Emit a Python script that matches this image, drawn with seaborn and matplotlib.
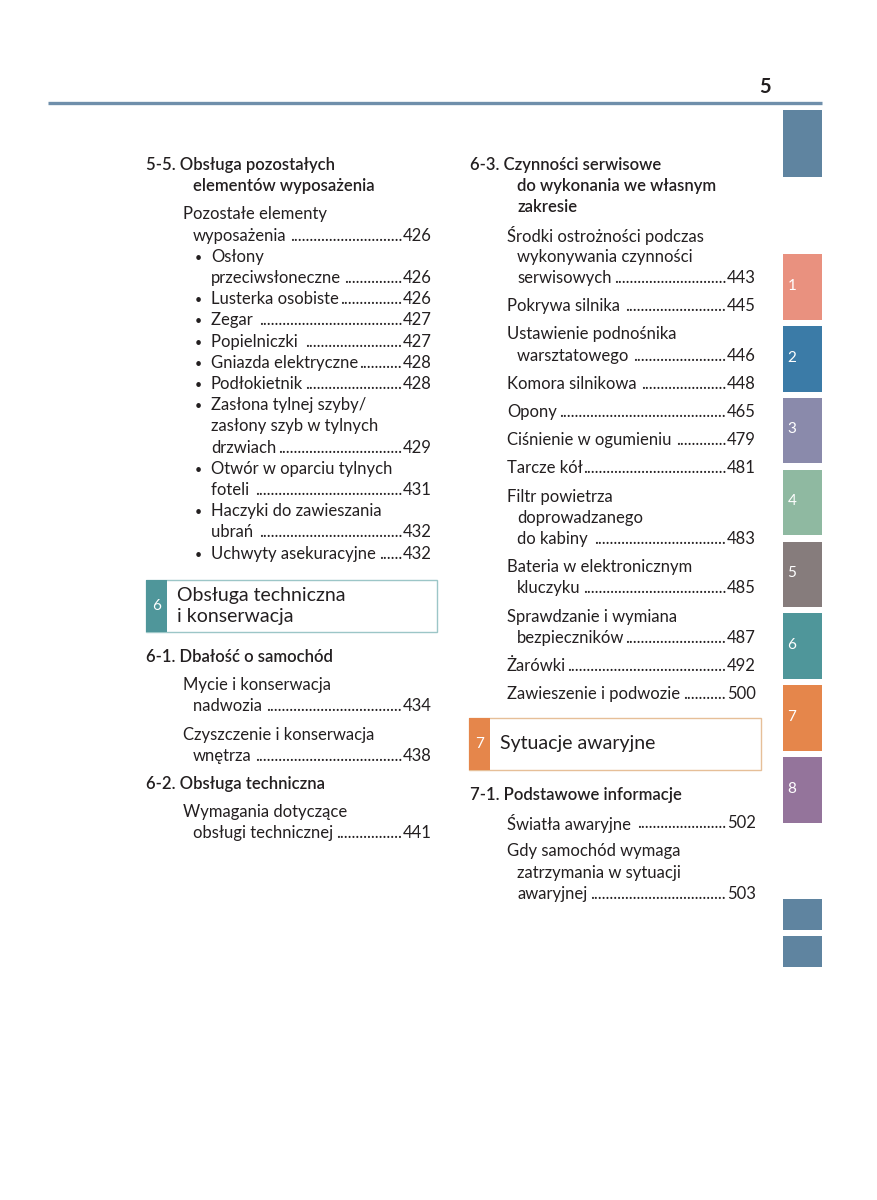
import matplotlib
matplotlib.use("Agg")
import matplotlib.pyplot as plt
import seaborn as sns

sns.set_theme(style="white")
plt.rcParams["font.family"] = ["Lato", "DejaVu Sans"]

# ---- page content ----
page_number = "5"

tab_labels = ["", "1", "2", "3", "4", "5", "6", "7", "8", "", ""]
tab_colors = ["#5f84a0", "#e9917f", "#3b7ba7", "#8a8aab", "#8fb9a1",
              "#867c7c", "#4f969a", "#e5864b", "#94749b", "#5f84a0", "#5f84a0"]
tab_tops = [110, 254, 326, 398, 470, 542, 613, 685, 757, 899, 936]
tab_heights = [67, 66, 66, 65, 65, 65, 66, 66, 66, 31, 31]

# (kind, text, page) ; kind: H heading, HC heading continuation, I item,
# C continuation, B bullet, BC bullet continuation
sec_5_5 = [
    ("H", "5-5. Obsługa pozostałych", None),
    ("HC", "elementów wyposażenia", None),
    ("I", "Pozostałe elementy", None),
    ("C", "wyposażenia", "426"),
    ("B", "Osłony", None),
    ("BC", "przeciwsłoneczne", "426"),
    ("B", "Lusterka osobiste", "426"),
    ("B", "Zegar ", "427"),
    ("B", "Popielniczki ", "427"),
    ("B", "Gniazda elektryczne", "428"),
    ("B", "Podłokietnik", "428"),
    ("B", "Zasłona tylnej szyby/", None),
    ("BC", "zasłony szyb w tylnych", None),
    ("BC", "drzwiach", "429"),
    ("B", "Otwór w oparciu tylnych", None),
    ("BC", "foteli ", "431"),
    ("B", "Haczyki do zawieszania", None),
    ("BC", "ubrań ", "432"),
    ("B", "Uchwyty asekuracyjne", "432"),
]

chapter_6 = ["Obsługa techniczna", "i konserwacja"]

sec_6_1 = [
    ("H", "6-1. Dbałość o samochód", None),
    ("I", "Mycie i konserwacja", None),
    ("C", "nadwozia ", "434"),
    ("I", "Czyszczenie i konserwacja", None),
    ("C", "wnętrza", "438"),
    ("H", "6-2. Obsługa techniczna", None),
    ("I", "Wymagania dotyczące", None),
    ("C", "obsługi technicznej", "441"),
]

sec_6_3 = [
    ("H", "6-3. Czynności serwisowe", None),
    ("HC", "do wykonania we własnym", None),
    ("HC", "zakresie", None),
    ("I", "Środki ostrożności podczas", None),
    ("C", "wykonywania czynności", None),
    ("C", "serwisowych", "443"),
    ("I", "Pokrywa silnika ", "445"),
    ("I", "Ustawienie podnośnika", None),
    ("C", "warsztatowego ", "446"),
    ("I", "Komora silnikowa ", "448"),
    ("I", "Opony", "465"),
    ("I", "Ciśnienie w ogumieniu ", "479"),
    ("I", "Tarcze kół", "481"),
    ("I", "Filtr powietrza", None),
    ("C", "doprowadzanego", None),
    ("C", "do kabiny ", "483"),
    ("I", "Bateria w elektronicznym", None),
    ("C", "kluczyku", "485"),
    ("I", "Sprawdzanie i wymiana", None),
    ("C", "bezpieczników", "487"),
    ("I", "Żarówki", "492"),
    ("I", "Zawieszenie i podwozie", "500"),
]

chapter_7 = ["Sytuacje awaryjne"]

sec_7_1 = [
    ("H", "7-1. Podstawowe informacje", None),
    ("I", "Światła awaryjne ", "502"),
    ("I", "Gdy samochód wymaga", None),
    ("C", "zatrzymania w sytuacji", None),
    ("C", "awaryjnej", "503"),
]

TXT = "#231f20"
FS = 12.0
LINE = 21.2
GAP = 7.0

fig = plt.figure(figsize=(8.77, 12.0), dpi=100)
ax = fig.add_axes([0, 0, 1, 1])
ax.set_xlim(0, 877)
ax.set_ylim(1200, 0)
ax.axis("off")
renderer = fig.canvas.get_renderer()

# header rule and page number
ax.plot([48, 822], [103, 103], color="#6f8fab", lw=2.4, solid_capstyle="butt")
ax.text(765, 87, page_number, ha="center", va="center", fontsize=14.5,
        fontweight="bold", color=TXT)

# side tabs
ax.bar([802.5] * len(tab_tops), tab_heights, width=39, bottom=tab_tops,
       color=tab_colors, edgecolor="none")
for lab, top, h in zip(tab_labels, tab_tops, tab_heights):
    if lab:
        ax.text(792, top + h * 0.48, lab, ha="center", va="center",
                fontsize=11, color="white")

probe = ax.text(0, -100, "." * 40, fontsize=FS)
dot_w = probe.get_window_extent(renderer).width / 40
probe.remove()


def leader(x, y, text, page, xr, weight="normal"):
    t = ax.text(x, y, text, ha="left", va="center", fontsize=FS,
                color=TXT, fontweight=weight)
    if page is None:
        return
    p = ax.text(xr, y, page, ha="right", va="center", fontsize=FS, color=TXT)
    x0 = t.get_window_extent(renderer).x1
    x1 = p.get_window_extent(renderer).x0
    n = int((x1 - x0 - 1) / dot_w)
    if n > 0:
        ax.text(x1 - 1, y, "." * n, ha="right", va="center", fontsize=FS,
                color=TXT)


def column(entries, y, xh, xr, spaced):
    first = True
    prev = None
    for kind, text, page in entries:
        if not first:
            y += LINE
            if kind == "H" or (kind == "I" and (spaced or prev in ("H", "HC"))):
                y += GAP
        first = False
        prev = kind
        if kind == "H":
            leader(xh, y, text, page, xr, weight="semibold")
        elif kind == "HC":
            leader(xh + 47, y, text, page, xr, weight="semibold")
        elif kind == "I":
            leader(xh + 37, y, text, page, xr)
        elif kind == "C":
            leader(xh + 47, y, text, page, xr)
        elif kind == "B":
            ax.text(xh + 52, y + 1, "•", ha="center", va="center",
                    fontsize=9, color=TXT)
            leader(xh + 65, y, text, page, xr)
        elif kind == "BC":
            leader(xh + 65, y, text, page, xr)
    return y


def chapter_box(x0, x1, y0, y1, num, lines, color, edge):
    ax.bar([(x0 + x1) / 2], [y1 - y0], width=x1 - x0, bottom=[y0],
           color="white", edgecolor=edge, linewidth=1.0)
    ax.bar([x0 + 10.5], [y1 - y0], width=21, bottom=[y0], color=color,
           edgecolor="none")
    ax.text(x0 + 10.5, (y0 + y1) / 2, num, ha="center", va="center",
            fontsize=11, color="white")
    n = len(lines)
    for i, s in enumerate(lines):
        yy = (y0 + y1) / 2 + (i - (n - 1) / 2) * 21.5
        ax.text(x0 + 31, yy, s, ha="left", va="center", fontsize=14,
                color=TXT)


# left column
column(sec_5_5, 165, 146, 432, spaced=False)
chapter_box(146, 437, 580, 632, "6", chapter_6, "#4f969a", "#9cc6c7")
column(sec_6_1, 657, 146, 432, spaced=True)

# right column
column(sec_6_3, 165, 470, 756, spaced=True)
chapter_box(469, 761, 718, 770, "7", chapter_7, "#e5864b", "#e6bf98")
column(sec_7_1, 795, 470, 756, spaced=True)

fig.savefig("out.png", dpi=100, facecolor="white")
